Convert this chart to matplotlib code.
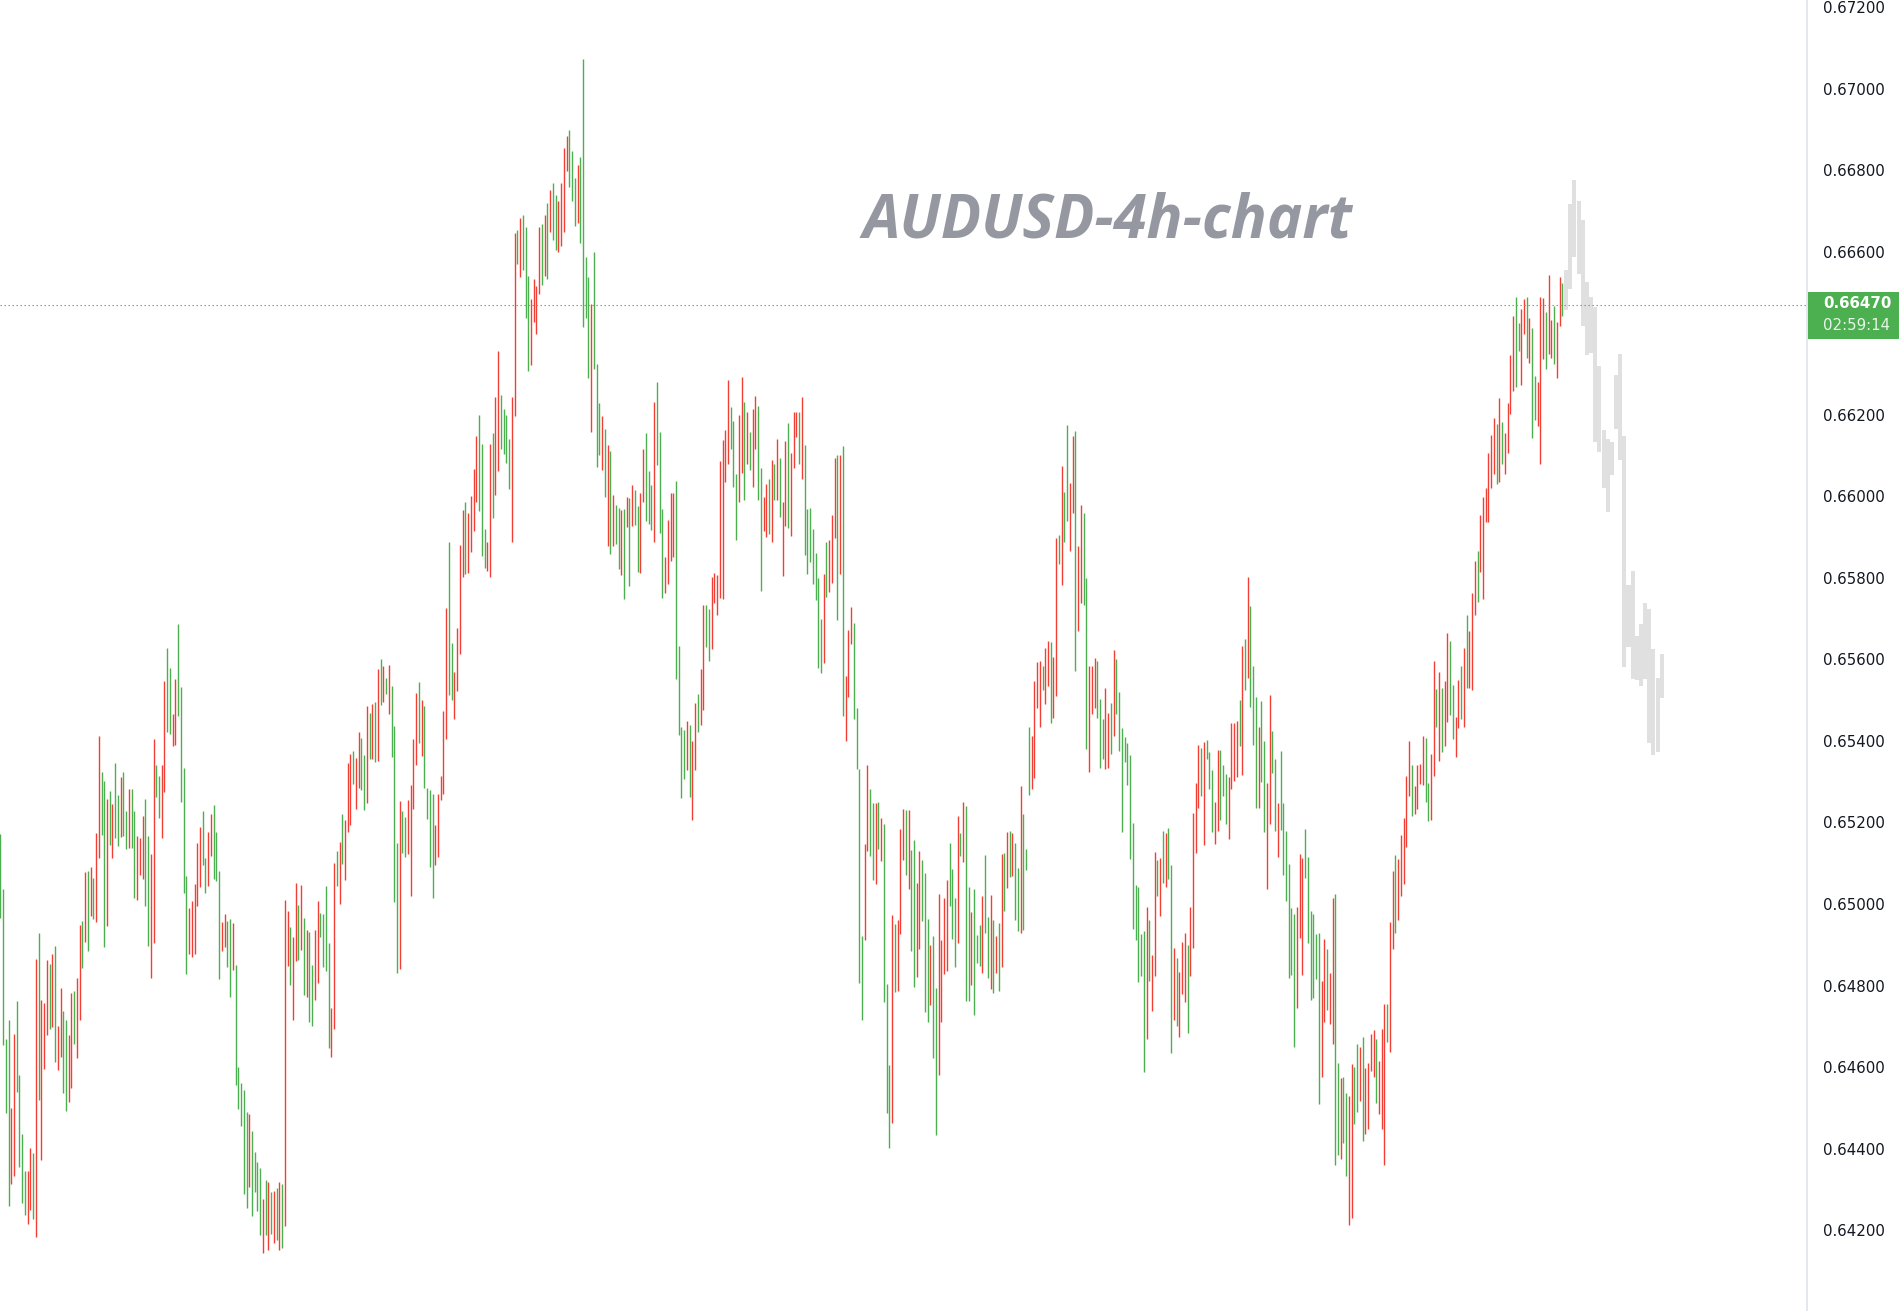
import matplotlib
matplotlib.use('Agg')
import matplotlib.pyplot as plt
from matplotlib.patches import Rectangle
import numpy as np

W, H = 1901, 1311

# bar highs / lows in 1e-5 price units, oldest first
high = [
    65172, 65036, 64669, 64715, 64500, 64682, 64762, 64580, 64435, 64345,
    64345, 64401, 64390, 64866, 64930, 64764, 64757, 64862, 64854, 64877,
    64896, 64700, 64793, 64737, 64715, 64680, 64781, 64786, 64818, 64948,
    64958, 65078, 65080, 65090, 65063, 65175, 65413, 65325, 65301, 65257,
    65278, 65245, 65347, 65267, 65311, 65323, 65229, 65283, 65283, 65229,
    65166, 65161, 65215, 65257, 65166, 65122, 65404, 65342, 65313, 65342,
    65547, 65627, 65580, 65465,
    # 65-126
    65552, 65686, 65532, 65333, 65068, 64990, 65007, 65049, 65149, 65189,
    65228, 65114, 65176, 65221, 65243, 65176, 65080, 64955, 64976, 64958,
    64963, 64953, 64850, 64600, 64561, 64543, 64491, 64484, 64443, 64393,
    64367, 64352, 64277, 64323, 64318, 64294, 64296, 64303, 64318, 64313,
    65009, 64983, 64943, 64919, 65051, 64997, 65047, 64967, 64936, 64931,
    64850, 64936, 65007, 64978, 64976, 65044, 64904, 64745, 65101, 65130,
    65151, 65221,
    # 127-188
    65206, 65347, 65369, 65376, 65358, 65423, 65408, 65366, 65486, 65468,
    65490, 65495, 65577, 65601, 65584, 65555, 65587, 65535, 65437, 65150,
    65252, 65228, 65214, 65255, 65293, 65406, 65518, 65545, 65500, 65486,
    65285, 65280, 65271, 65195, 65269, 65315, 65474, 65725, 65888, 65639,
    65570, 65677, 65881, 65966, 65986, 65960, 66001, 66067, 66149, 66200,
    66129, 65920, 65887, 66129, 66155, 66244, 66356, 66249, 66214, 66200,
    66141, 66244,
    # 189-248
    66646, 66654, 66683, 66690, 66661, 66540, 66484, 66533, 66515, 66661,
    66668, 66690, 66720, 66751, 66769, 66739, 66724, 66769, 66854, 66883,
    66899, 66847, 66781, 66812, 66832, 67073, 66587, 66537, 66471, 66599,
    66324, 66228, 66197, 66165, 66126, 66111, 66003, 65978, 65971, 65966,
    65969, 65999, 65996, 66027, 66015, 65975, 66008, 66116, 66155, 66062,
    66027, 66231, 66280, 66157, 65969, 65850, 65943, 66008, 66008, 66037,
    # 249-314
    65632, 65433, 65428, 65448, 65438, 65400, 65493, 65514, 65576, 65733,
    65733, 65723, 65801, 65811, 65806, 66086, 66138, 66162, 66285, 66219,
    66184, 66054, 66199, 66292, 66231, 66206, 66157, 66214, 66246, 66221,
    66069, 65998, 66030, 66042, 66089, 66079, 66140, 66094, 65986, 66135,
    66179, 66106, 66206, 66206, 66206, 66243, 66125, 65968, 65971, 65919,
    65860, 65799, 65698, 65809, 65887, 65892, 65954, 66094, 66101, 66101,
    66123, 65559, 65671, 65728, 65689, 65480,
    # 315-376
    65330, 64921, 65147, 65340, 65282, 65248, 65248, 65250, 65211, 65196,
    64803, 64605, 64973, 64951, 64960, 65184, 65233, 65230, 65230, 65132,
    65157, 65051, 65130, 65108, 65076, 64963, 64899, 64921, 64794, 65024,
    64911, 65014, 65059, 65149, 65086, 65014, 65216, 65174, 65250, 65240,
    65041, 64980, 65037, 64924, 64948, 65019, 65120, 64968, 65022, 64960,
    64921, 64953, 65122, 65125, 65176, 65179, 65174, 65149, 65088, 65289,
    65221, 65135,
    # 377-443
    65435, 65413, 65547, 65593, 65596, 65583, 65627, 65644, 65642, 65605,
    65897, 65906, 66074, 66010, 66176, 66032, 66147, 66160, 65878, 65978,
    65958, 65799, 65583, 65585, 65603, 65596, 65503, 65454, 65529, 65468,
    65492, 65622, 65600, 65519, 65431, 65409, 65395, 65365, 65198, 65046,
    65041, 64927, 64935, 64992, 64961, 64875, 65127, 65108, 65113, 65179,
    65175, 65186, 65095, 64892, 64867, 64833, 64908, 64930, 64899, 64992,
    65223, 65296, 65391, 65383, 65397, 65402, 65373,
    # 444-512
    65328, 65251, 65379, 65377, 65340, 65318, 65311, 65443, 65445, 65448,
    65501, 65634, 65651, 65802, 65730, 65583, 65507, 65433, 65497, 65400,
    65298, 65512, 65424, 65355, 65247, 65375, 65249, 65178, 65097, 64991,
    64975, 64992, 65122, 65112, 65183, 65116, 64982, 64975, 64927, 64929,
    64811, 64915, 64889, 64832, 65014, 65025, 64609, 64574, 64575, 64536,
    64530, 64607, 64600, 64658, 64650, 64673, 64597, 64611, 64682, 64690,
    64670, 64614, 64693, 64756, 64754, 64955, 65080, 65120, 65110,
    # 513-572
    65170, 65210, 65315, 65399, 65340, 65290, 65340, 65343, 65411, 65407,
    65298, 65367, 65595, 65527, 65568, 65530, 65546, 65664, 65644, 65537,
    65458, 65550, 65583, 65628, 65710, 65670, 65763, 65841, 65866, 65953,
    65998, 66021, 66106, 66150, 66191, 66177, 66241, 66181, 66155, 66230,
    66346, 66441, 66489, 66425, 66459, 66485, 66490, 66437, 66412, 66295,
    66280, 66489, 66486, 66453, 66542, 66433, 66467, 66427, 66539, 66523,
]

low = [
    64965, 64655, 64487, 64259, 64313, 64333, 64539, 64356, 64266, 64237,
    64215, 64249, 64228, 64184, 64520, 64372, 64596, 64680, 64693, 64698,
    64613, 64593, 64625, 64537, 64492, 64515, 64549, 64657, 64622, 64716,
    64843, 64907, 64885, 64971, 64963, 64956, 65113, 65169, 64895, 64947,
    65145, 65113, 65162, 65143, 65164, 65167, 65135, 65138, 65138, 65015,
    65010, 65072, 65062, 64995, 64897, 64819, 64905, 65263, 65211, 65162,
    65275, 65422, 65418, 65388,
    # 65-126
    65390, 65461, 65251, 65026, 64829, 64877, 64869, 64877, 64996, 65043,
    65096, 65027, 65045, 65118, 65062, 65056, 64817, 64885, 64895, 64846,
    64772, 64839, 64557, 64498, 64456, 64289, 64254, 64306, 64235, 64294,
    64248, 64188, 64145, 64188, 64152, 64190, 64168, 64176, 64152, 64157,
    64211, 64848, 64801, 64716, 64860, 64864, 64887, 64777, 64772, 64711,
    64702, 64765, 64807, 64920, 64846, 64836, 64648, 64626, 64694, 65045,
    65001, 65097,
    # 127-188
    65058, 65177, 65195, 65295, 65232, 65284, 65279, 65230, 65249, 65355,
    65356, 65349, 65351, 65487, 65495, 65516, 65465, 65360, 65005, 64830,
    64841, 65124, 65115, 65123, 65020, 65232, 65340, 65396, 65363, 65284,
    65208, 65091, 65014, 65095, 65115, 65256, 65271, 65406, 65513, 65500,
    65455, 65522, 65614, 65802, 65809, 65811, 65864, 65916, 65986, 65963,
    65853, 65823, 65818, 65803, 65948, 66002, 66061, 66117, 66103, 66081,
    66017, 65889,
    # 189-248
    66197, 66570, 66538, 66556, 66438, 66308, 66323, 66428, 66399, 66497,
    66518, 66540, 66534, 66647, 66629, 66605, 66600, 66614, 66647, 66798,
    66759, 66725, 66662, 66671, 66620, 66414, 66438, 66289, 66158, 66311,
    66072, 66102, 66065, 65999, 65879, 65859, 65879, 65883, 65822, 65808,
    65748, 65924, 65779, 65928, 65930, 65815, 65813, 65985, 65939, 65933,
    65918, 65888, 66077, 65911, 65750, 65764, 65786, 65842, 65851, 65552,
    # 249-314
    65415, 65260, 65307, 65329, 65262, 65205, 65329, 65422, 65439, 65476,
    65631, 65596, 65626, 65739, 65709, 65751, 65748, 66035, 66080, 66116,
    66023, 65893, 65986, 66058, 65991, 66080, 66065, 66023, 66116, 65991,
    65768, 65915, 65900, 65908, 65888, 65991, 65991, 65950, 65805, 65927,
    65923, 65903, 66070, 66146, 66080, 66043, 65856, 65810, 65839, 65785,
    65746, 65579, 65567, 65591, 65753, 65765, 65788, 65898, 65697, 65810,
    65461, 65400, 65508, 65638, 65454, 65330,
    # 315-376
    64807, 64716, 64912, 65131, 65118, 65059, 65050, 65136, 65106, 64760,
    64488, 64402, 64463, 64785, 64787, 64927, 65108, 65072, 65037, 64885,
    64797, 64821, 64890, 64959, 64735, 64711, 64753, 64623, 64434, 64581,
    64711, 64829, 64836, 64996, 64915, 64846, 64905, 65118, 65104, 64762,
    64762, 64802, 64728, 64856, 64848, 64831, 64929, 64819, 64792, 64782,
    64831, 64787, 64846, 64983, 65040, 65067, 65069, 64961, 64933, 64929,
    64937, 65084,
    # 377-443
    65268, 65282, 65310, 65481, 65433, 65525, 65490, 65534, 65444, 65456,
    65511, 65834, 65782, 65888, 65940, 65866, 65959, 65572, 65670, 65738,
    65733, 65380, 65325, 65467, 65481, 65456, 65334, 65356, 65332, 65334,
    65368, 65413, 65466, 65376, 65177, 65349, 65292, 65111, 64939, 64913,
    64809, 64823, 64587, 64669, 64812, 64738, 64823, 65019, 64971, 65052,
    65042, 65061, 64634, 64715, 64701, 64675, 64779, 64761, 64684, 64823,
    64893, 65125, 65235, 65266, 65145, 65356, 65282,
    # 444-512
    65177, 65147, 65179, 65205, 65264, 65196, 65159, 65283, 65301, 65311,
    65387, 65316, 65524, 65555, 65483, 65389, 65236, 65236, 65300, 65177,
    65036, 65196, 65322, 65180, 65116, 65181, 65072, 65008, 64818, 64827,
    64649, 64745, 64916, 64827, 65063, 64905, 64764, 64769, 64815, 64510,
    64577, 64710, 64740, 64707, 64656, 64360, 64385, 64374, 64413, 64334,
    64213, 64229, 64460, 64489, 64518, 64420, 64437, 64449, 64591, 64575,
    64513, 64484, 64448, 64360, 64662, 64638, 64890, 64930, 64960,
    # 513-572
    65020, 65050, 65139, 65265, 65215, 65222, 65232, 65294, 65293, 65250,
    65203, 65206, 65315, 65434, 65351, 65374, 65387, 65446, 65464, 65404,
    65361, 65431, 65453, 65435, 65531, 65531, 65524, 65710, 65740, 65814,
    65747, 65938, 65938, 66021, 66055, 66030, 66034, 66079, 66054, 66106,
    66203, 66258, 66267, 66356, 66274, 66398, 66339, 66326, 66142, 66187,
    66172, 66079, 66336, 66311, 66348, 66339, 66324, 66289, 66417, 66441,
]

# G = up bar, R = down bar
side = (
    "GGGGRRGGGG" "RRGRGRRRGR" "GRRGGRRGRR" "GRGRGRRGGR" "GRGGRGGRGG" "RRRGGRRGGR" "RGGR"
    "RGGGGRRRRR" "GGRRGGGRRG" "GRGGGGGRGG" "GGRGRGRGRG" "RRGRRGRGRG" "GRRGGGGRRG" "RG"
    "RRRGRRGGRG" "RGRGRGRGGG" "RGGRRRRGRG" "GGGRRRRRGG" "RRRRGRRRRG" "GGRRGRRGGG" "GR"
    "RGRGGGRRRR" "GRGRGGRRRR" "GGGRGGGGRG" "GGRGRGRGGR" "GRGRGGRRGG" "GRGGGRRRRG"
    "GGGRGRRGRR" "GGRRRRRRRG" "GGRRGRGRRG" "GRRGRGRGRR" "GRRRGRGGGG" "GGGRGRRRGR" "GRRRGG"
    "GGRRGGRGRG" "GGRGRRRGRG" "GRRGGGRGGR" "RRRGGGRGRG" "GRGGGRGGRG" "RGRGRGRGGR" "GG"
    "GRRRRGRRGR" "RGRGGRRGRR" "GGRRRGGGRR" "GRGGGGGGGG" "GGGRGRRGRG" "RGGRGRRRGR" "RRRGRGG"
    "GRRGGGRRRR" "GRGRGGGRGG" "RRGGRGGGGG" "GRRRGGGGGG" "RRGRRGGRGG" "RRGGRGRRRR" "GRRRGRRGR"
    "RRRRGRRRRG" "GRRGRGRRGG" "RRGRGRRRGR" "RRRRRGRGRR" "RRGGRRGRGG" "RRRGRRGRRG"
)

# faded projection bars at the right edge
gray_high = [66555, 66717, 66776, 66725, 66678, 66525, 66489, 66464, 66319, 66163,
             66141, 66133, 66297, 66349, 66149, 65783, 65818, 65657, 65687, 65738,
             65724, 65626, 65554, 65613]
gray_low = [66457, 66508, 66587, 66545, 66418, 66347, 66352, 66133, 66109, 66021,
            65962, 66052, 66164, 66089, 65582, 65631, 65552, 65549, 65535, 65552,
            65395, 65366, 65373, 65506]

last_price = 0.66470
countdown = "02:59:14"
price_ticks = [0.672, 0.670, 0.668, 0.666, 0.662, 0.660, 0.658, 0.656,
               0.654, 0.652, 0.650, 0.648, 0.646, 0.644, 0.642]
title = "AUDUSD-4h-chart"

hi = np.array(high) / 1e5
lo = np.array(low) / 1e5
x = np.arange(len(hi))
up_col, dn_col = '#4caf50', '#f23f35'
cols = [up_col if s == 'G' else dn_col for s in side]

fig = plt.figure(figsize=(W / 100, H / 100), dpi=100)
fig.patch.set_facecolor('white')
axis_x = 1806.5
ax = fig.add_axes([0, 0, axis_x / W, 1])

# price mapping: 0.672 sits 7px from the top, 81.55px per 0.002
px = 0.002 / 81.55
ytop = 0.672 + 7 * px
ybot = 0.672 - (H - 7) * px
ax.set_ylim(ybot, ytop)
step = 2.7355
ax.set_xlim(-0.33 / step, (axis_x - 0.33) / step)

ax.vlines(x, lo, hi, colors=cols, linewidth=1.0)

gx = 572.4 + 1.52 * np.arange(len(gray_high))
gh = np.array(gray_high) / 1e5
gl = np.array(gray_low) / 1e5
ax.bar(gx, gh - gl, bottom=gl, width=1.47, color='#e0e0e0', linewidth=0)

ax.axhline(last_price, color=up_col, linewidth=0.8, linestyle=(0, (1.2, 2.4)))

for s in ['top', 'left', 'bottom']:
    ax.spines[s].set_visible(False)
ax.spines['right'].set_color('#e0e3eb')
ax.spines['right'].set_linewidth(1.2)
ax.set_xticks([])
ax.yaxis.tick_right()
ax.set_yticks(price_ticks)
ax.set_yticklabels(['%.5f' % v for v in price_ticks])
ax.tick_params(axis='y', length=0, pad=11.8, labelsize=10.8, labelcolor='#131722')

# price tag
fig.patches.append(Rectangle((1808 / W, 1 - 339 / H), 91 / W, 47 / H,
                             transform=fig.transFigure, facecolor=up_col,
                             edgecolor='none', zorder=5))
fig.text(1823 / W, 1 - 304 / H, '%.5f' % last_price, color='white', fontsize=10.8,
         fontweight='bold', va='center', ha='left', zorder=6)
fig.text(1823 / W, 1 - 325 / H, countdown, color='#e8f5e9', fontsize=10.8,
         va='center', ha='left', zorder=6)

fig.text(1108 / W, 1 - 238 / H, title, color='#9598a1', fontsize=43,
         family=['Open Sans', 'DejaVu Sans'], style='italic', fontweight='bold',
         ha='center', va='baseline')

fig.savefig('out.png', dpi=100, facecolor='white')
